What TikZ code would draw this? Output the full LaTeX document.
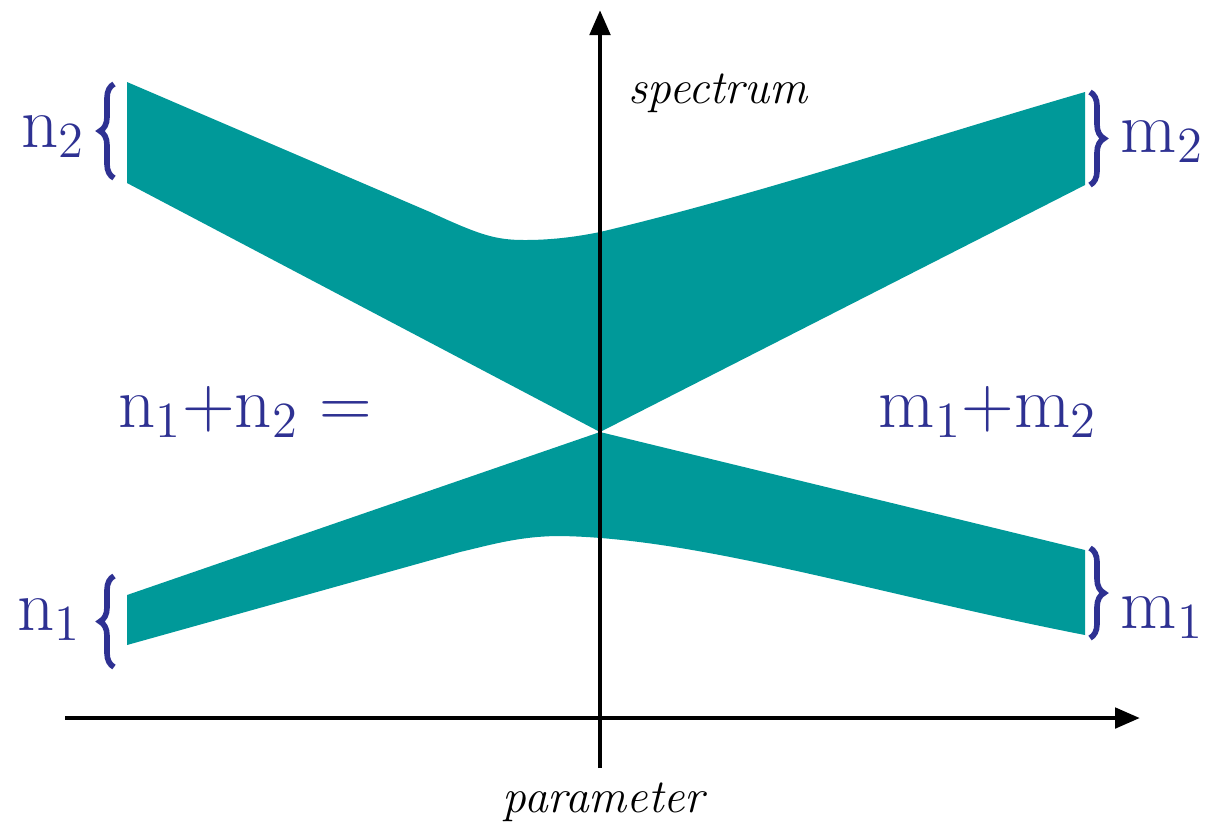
\documentclass[tikz,border=0pt]{standalone}
\usepackage{amsmath}
\usepackage{xcolor}
\usetikzlibrary{arrows.meta, decorations.pathreplacing, positioning}
\definecolor{bandteal}{RGB}{0,153,153}
\definecolor{labelblue}{RGB}{46,49,146}

\begin{document}
\begin{tikzpicture}[x=0.01cm, y=-0.01cm,
  band/.style={fill=bandteal, draw=none},
  axis/.style={-{Triangle[length=0.25cm, width=0.2cm]}, line width=1.4pt},
  brc/.style={decorate, decoration={brace, amplitude=0.14cm}, draw=labelblue, line width=1.6pt},
  lab/.style={text=labelblue, font=\fontsize{20.5}{24}\selectfont, inner sep=0pt},
  axlab/.style={font=\fontsize{13.5}{16}\selectfont\itshape, inner sep=0pt}
]
\useasboundingbox (0,0) rectangle (1207,835);

% crossing point of the bands
\coordinate (cross) at (600,432);

% upper band (n2 -> m2)
\fill[band] (127,82) -- (430,212) .. controls (480,235) and (495,240) .. (525,240)
  .. controls (555,240) and (580,236) .. (600,232)
  .. controls (760,194) and (920,140) .. (1085,92)
  -- (1085,185) -- (cross) -- (127,183) -- cycle;

% lower band (n1 -> m1)
\fill[band] (127,595) -- (cross) -- (1085,550) -- (1085,635)
  .. controls (880,595) and (700,538) .. (560,536)
  .. controls (520,536) and (490,545) .. (460,552)
  -- (127,645) -- cycle;

% axes
\coordinate (xs) at (65,718);
\coordinate (xe) at (1140,718);
\coordinate (ys) at (600,768);
\coordinate (ye) at (600,10);
\draw[axis] (xs) -- (xe);
\draw[axis] (ys) -- (ye);
\node[axlab, anchor=base west] (spec) at (628,103) {spectrum};
\node[axlab, anchor=base west] (param) at (502,812) {parameter};

% braces
\coordinate (bn2a) at (114,178);
\coordinate (bn2b) at (114,84);
\coordinate (bn1a) at (114,667);
\coordinate (bn1b) at (114,576);
\coordinate (bm2a) at (1090,92);
\coordinate (bm2b) at (1090,185);
\coordinate (bm1a) at (1090,548);
\coordinate (bm1b) at (1090,638);
\draw[brc] (bn2a) -- (bn2b);
\draw[brc] (bn1a) -- (bn1b);
\draw[brc] (bm2a) -- (bm2b);
\draw[brc] (bm1a) -- (bm1b);

% labels
\node[lab, anchor=base east] (n2) at (86,147) {$\mathrm{n}_2$};
\node[lab, anchor=base east] (n1) at (82,630) {$\mathrm{n}_1$};
\node[lab, anchor=base west] (m2) at (1120,152) {$\mathrm{m}_2$};
\node[lab, anchor=base west] (m1) at (1120,628) {$\mathrm{m}_1$};
\node[lab, anchor=base west] (sumn) at (118,427) {$\mathrm{n}_1{+}\mathrm{n}_2 =$};
\node[lab, anchor=base west] (summ) at (878,427) {$\mathrm{m}_1{+}\mathrm{m}_2$};
\end{tikzpicture}
\end{document}
